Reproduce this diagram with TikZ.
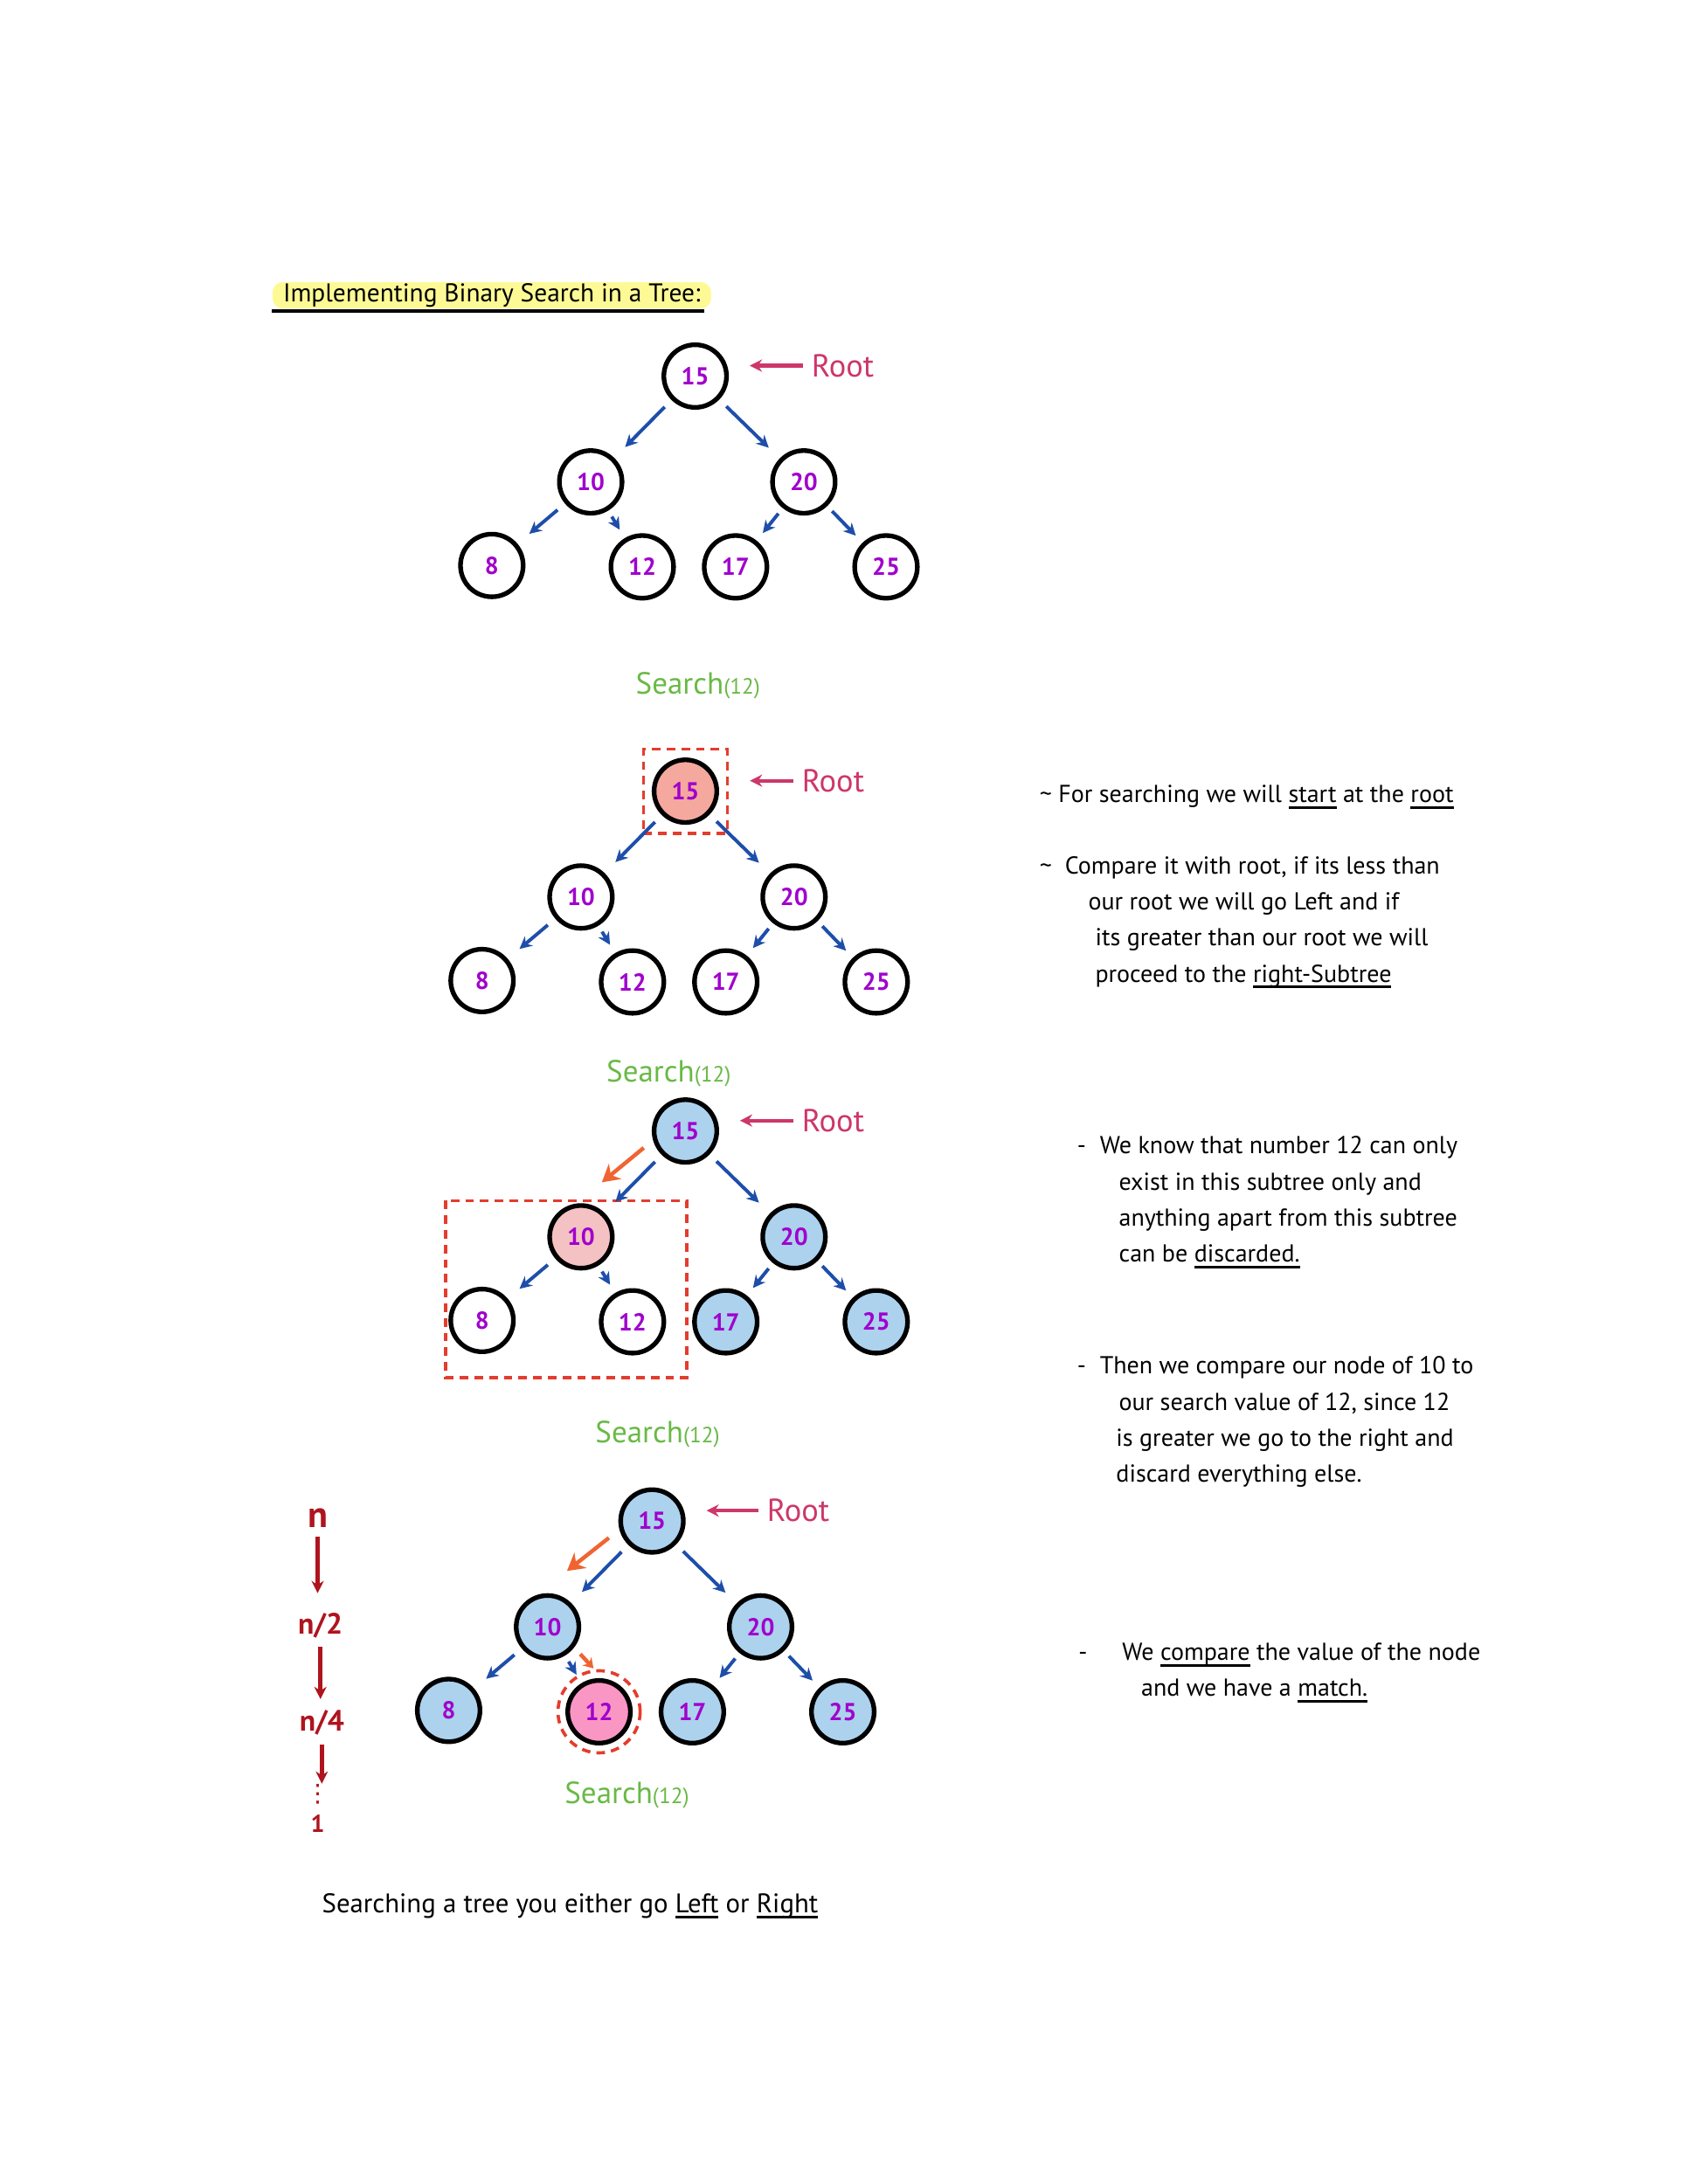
\documentclass[tikz,border=0pt]{standalone}
\usepackage{fontspec}
\setmainfont{PT Sans}
\newfontfamily\symfont{DejaVu Sans}
\usepackage{xcolor}
\usepackage{tikz}
\usetikzlibrary{arrows.meta,positioning,fit}

\definecolor{edgeblue}{RGB}{30,78,170}
\definecolor{rootred}{RGB}{205,55,105}
\definecolor{numpurple}{RGB}{160,0,205}
\definecolor{searchgreen}{RGB}{105,185,70}
\definecolor{visitblue}{RGB}{172,210,238}
\definecolor{rootfill}{RGB}{244,168,158}
\definecolor{subfill}{RGB}{244,194,194}
\definecolor{matchfill}{RGB}{250,150,196}
\definecolor{cutred}{RGB}{228,60,45}
\definecolor{pathorange}{RGB}{240,100,50}
\definecolor{costred}{RGB}{175,20,30}
\definecolor{markyellow}{RGB}{253,250,150}

\newcommand{\thickul}[1]{\setbox0=\hbox{#1}\rlap{\rule[-2.6pt]{\wd0}{1.1pt}}\box0\relax}

\begin{document}
\begin{tikzpicture}[
  x=0.02cm, y=-0.02cm,
  >={Stealth[length=5pt,width=5pt]},
  node distance=1.5cm,
  on grid,
  every node/.style={font=\small},
  keynode/.style={draw, circle, line width=1.9pt, minimum size=0.9cm, inner sep=0pt,
                  font=\bfseries\fontsize{10}{12}\selectfont, text=numpurple},
  seen/.style={keynode, fill=visitblue},
  link/.style={->, draw=edgeblue, line width=1.4pt, shorten <=0.14cm, shorten >=0.22cm},
  shortlink/.style={link, shorten <=0.1cm, shorten >=0.14cm},
  walk/.style={-{Stealth[length=7pt,width=8pt]}, draw=pathorange, line width=1.6pt},
  shortwalk/.style={walk, -{Stealth[length=4pt,width=5pt]}},
  rootlbl/.style={text=rootred, font=\fontsize{13}{15}\selectfont},
  rootarrow/.style={->, draw=rootred, line width=1.5pt, shorten >=0.3cm},
  searchlbl/.style={text=searchgreen, font=\fontsize{12.5}{14}\selectfont},
  cutbox/.style={draw=cutred, line width=1.3pt, dash pattern=on 3.5pt off 2.5pt},
  cost/.style={text=costred, font=\bfseries\fontsize{12}{14}\selectfont},
  costarrow/.style={->, draw=costred, line width=1.6pt},
  note/.style={anchor=base west, align=left, font=\fontsize{10}{14.7}\selectfont}
]
\useasboundingbox (0,0) rectangle (1212,1568);

% title
\node (title) [fill=markyellow, minimum width=6.3cm, minimum height=0.38cm, inner sep=0pt,
               rounded corners=0.15cm, font=\fontsize{10.5}{13}\selectfont] at (353,212) {Implementing Binary Search in a Tree:};
\draw[line width=1.5pt] ([yshift=-0.03cm]title.south west) -- ([xshift=-0.1cm,yshift=-0.03cm]title.south east);

% tree before the search
\node (a15) [keynode] at (499,270) {15};
\node (a10) [keynode, below left=1.52cm and 1.5cm of a15]   {10};
\node (a20) [keynode, below right=1.52cm and 1.56cm of a15] {20};
\node (a8)  [keynode, below left=1.2cm and 1.42cm of a10]   {8};
\node (a12) [keynode, below right=1.22cm and 0.74cm of a10] {12};
\node (a17) [keynode, below left=1.22cm and 0.98cm of a20]  {17};
\node (a25) [keynode, below right=1.22cm and 1.18cm of a20] {25};
\node (aroot) [rootlbl, above right=0.15cm and 2.12cm of a15] {Root};

\draw[link]      (a15) -- (a10);
\draw[link]      (a15) -- (a20);
\draw[link]      (a10) -- (a8);
\draw[shortlink] (a10) -- (a12);
\draw[shortlink] (a20) -- (a17);
\draw[shortlink] (a20) -- (a25);
\draw[rootarrow] (aroot.west) -- (aroot.west -| a15.east);

\node (s1) [searchlbl] at (501,492) {Search{\small(12)}};

% step 1: start at the root
\node (b15) [keynode, fill=rootfill] at (492,568) {15};
\node (b10) [keynode, below left=1.52cm and 1.5cm of b15]   {10};
\node (b20) [keynode, below right=1.52cm and 1.56cm of b15] {20};
\node (b8)  [keynode, below left=1.2cm and 1.42cm of b10]   {8};
\node (b12) [keynode, below right=1.22cm and 0.74cm of b10] {12};
\node (b17) [keynode, below left=1.22cm and 0.98cm of b20]  {17};
\node (b25) [keynode, below right=1.22cm and 1.18cm of b20] {25};
\node (broot) [rootlbl, above right=0.15cm and 2.12cm of b15] {Root};
\node (bcut) [cutbox, fit=(b15), inner sep=0.12cm] {};

\draw[link]      (b15) -- (b10);
\draw[link]      (b15) -- (b20);
\draw[link]      (b10) -- (b8);
\draw[shortlink] (b10) -- (b12);
\draw[shortlink] (b20) -- (b17);
\draw[shortlink] (b20) -- (b25);
\draw[rootarrow] (broot.west) -- (broot.west -| bcut.east);

\node (s2) [searchlbl] at (480,771) {Search{\small(12)}};

% step 2: go left
\node (c15) [seen] at (492,812) {15};
\node (c10) [keynode, fill=subfill, below left=1.52cm and 1.5cm of c15] {10};
\node (c20) [seen, below right=1.52cm and 1.56cm of c15]    {20};
\node (c8)  [keynode, below left=1.2cm and 1.42cm of c10]   {8};
\node (c12) [keynode, below right=1.22cm and 0.74cm of c10] {12};
\node (c17) [seen, below left=1.22cm and 0.98cm of c20]     {17};
\node (c25) [seen, below right=1.22cm and 1.18cm of c20]    {25};
\node (croot) [rootlbl, above right=0.15cm and 2.12cm of c15] {Root};
\draw[cutbox] (320,862) rectangle (493,989);

\draw[link]      (c15) -- (c10);
\draw[link]      (c15) -- (c20);
\draw[link]      (c10) -- (c8);
\draw[shortlink] (c10) -- (c12);
\draw[shortlink] (c20) -- (c17);
\draw[shortlink] (c20) -- (c25);
\draw[walk] ([xshift=-0.18cm]c15.210) -- ([xshift=0.3cm,yshift=0.3cm]c10.north);
\draw[rootarrow] (croot.west) -- (croot.west -| c15.east);

\node (s3) [searchlbl] at (472,1030) {Search{\small(12)}};

% step 3: match
\node (d15) [seen] at (468,1092) {15};
\node (d10) [seen, below left=1.52cm and 1.5cm of d15]   {10};
\node (d20) [seen, below right=1.52cm and 1.56cm of d15] {20};
\node (d8)  [seen, below left=1.2cm and 1.42cm of d10]   {8};
\node (d12) [keynode, fill=matchfill, below right=1.22cm and 0.74cm of d10] {12};
\node (d17) [seen, below left=1.22cm and 0.98cm of d20]  {17};
\node (d25) [seen, below right=1.22cm and 1.18cm of d20] {25};
\node (droot) [rootlbl, above right=0.15cm and 2.1cm of d15] {Root};
\draw[cutbox] (d12) circle (0.59cm);

\draw[link]      (d15) -- (d10);
\draw[link]      (d15) -- (d20);
\draw[link]      (d10) -- (d8);
\draw[shortlink] (d10) -- (d12);
\draw[shortlink] (d20) -- (d17);
\draw[shortlink] (d20) -- (d25);
\draw[walk] ([xshift=-0.2cm]d15.210) -- ([xshift=0.28cm,yshift=0.32cm]d10.north);
\draw[shortwalk] ([xshift=0.1cm,yshift=-0.08cm]d10.-40) -- ([xshift=-0.08cm,yshift=0.14cm]d12.north);
\draw[rootarrow] (droot.west) -- (droot.west -| d15.east);

\node (s4) [searchlbl] at (450,1289) {Search{\small(12)}};

% cost of each step
\node (cn)    [cost, font=\bfseries\fontsize{15}{16}\selectfont] at (228,1090) {n};
\node (cn2)   [cost] at (230,1167) {n/2};
\node (cn4)   [cost] at (231,1237) {n/4};
\node (cdots) [cost, inner sep=0pt, font=\symfont\fontsize{10}{10}\selectfont] at (228,1288) {⋮};
\node (cone)  [cost, inner sep=0pt, font=\bfseries\fontsize{10}{12}\selectfont] at (228,1309) {1};
\draw[costarrow, shorten >=0.16cm] (cn) -- (cn |- cn2.north);
\draw[costarrow, shorten >=0.04cm] (cn2) -- (cn2 |- cn4.north);
\draw[costarrow] (cn4) -- (cn4 |- cdots.north);

% notes
\node (note1) [note] at (740,576)
  {\textasciitilde\ For searching we will \thickul{start} at the \thickul{root}};
\node (note2) [note] at (740,705)
  {\textasciitilde\ \ Compare it with root, if its less than\\
   \hspace*{0.7cm}our root we will go Left and if\\
   \hspace*{0.8cm}its greater than our root we will\\
   \hspace*{0.8cm}proceed to the \thickul{right-Subtree}};
\node (note3) [note] at (767,906)
  {-\hspace{0.2cm}We know that number 12 can only\\
   \hspace*{0.6cm}exist in this subtree only and\\
   \hspace*{0.6cm}anything apart from this subtree\\
   \hspace*{0.6cm}can be \thickul{discarded.}};
\node (note4) [note] at (767,1064)
  {-\hspace{0.2cm}Then we compare our node of 10 to\\
   \hspace*{0.6cm}our search value of 12, since 12\\
   \hspace*{0.56cm}is greater we go to the right and\\
   \hspace*{0.56cm}discard everything else.};
\node (note5) [note] at (768,1218)
  {-\hspace{0.5cm}We \thickul{compare} the value of the node\\
   \hspace*{0.9cm}and we have a \thickul{match.}};

\node (summary) [note, font=\fontsize{11}{13}\selectfont] at (225,1373)
  {Searching a tree you either go \thickul{Left} or \thickul{Right}};
\end{tikzpicture}
\end{document}
